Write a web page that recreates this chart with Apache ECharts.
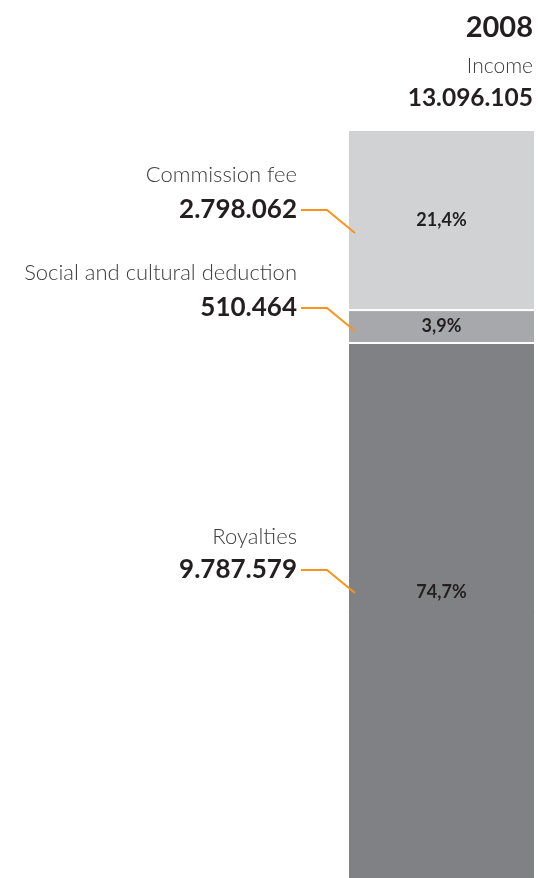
<!DOCTYPE html>
<html>
<head>
<meta charset="utf-8">
<script src="https://cdn.jsdelivr.net/npm/echarts@6/dist/echarts.min.js"></script>
<style>
  html, body { margin: 0; padding: 0; background: #fff; }
  #chart { width: 538px; height: 878px; }
</style>
</head>
<body>
<div id="chart"></div>
<script>
// data
var categories = ['2008'];
var seriesNames = ['Royalties', 'Social and cultural deduction', 'Commission fee'];
var seriesValues = [9787579, 510464, 2798062];
var valueLabels = ['9.787.579', '510.464', '2.798.062'];
var percentLabels = ['74,7%', '3,9%', '21,4%'];
var totalValue = 13096105;
var totalLabel = '13.096.105';
var headerLabel = 'Income';

// layout only (not data)
var colors = ['#808184', '#a7a8ab', '#d1d2d4'];
var labelYs = [570, 308, 210];      // y of the value text / leader line start
var pctOffsets = [249, null, null]; // royalties label is not centred
var fontFam = 'Lato, "Open Sans", sans-serif';

var chart = echarts.init(document.getElementById('chart'), null, { renderer: 'canvas' });

var series = seriesNames.map(function (name, i) {
    return {
        name: name,
        type: 'bar',
        stack: 'total',
        barWidth: '100%',
        data: [seriesValues[i]],
        itemStyle: { color: colors[i], borderColor: '#fff', borderWidth: 1 },
        label: {
            show: true,
            position: pctOffsets[i] == null ? 'inside' : ['50%', pctOffsets[i]],
            align: 'center',
            verticalAlign: 'middle',
            formatter: percentLabels[i],
            color: '#231f20',
            fontFamily: fontFam,
            fontWeight: 'bold',
            fontSize: 18
        },
        emphasis: { disabled: true }
    };
});

chart.setOption({
    animation: false,
    // bar runs past the bottom edge of the picture
    grid: { left: 348, top: 130, width: 187, height: 843, outerBoundsMode: 'none', containLabel: false },
    xAxis: { type: 'category', data: categories, show: false },
    yAxis: { type: 'value', min: 0, max: totalValue, show: false },
    series: series
});

// annotations placed from the chart's own scale
var barLeft = chart.convertToPixel({ gridIndex: 0 }, [categories[0], 0])[0] - 187 / 2;
var graphic = [
    { type: 'text', right: 5, top: 13, style: { text: categories[0], font: 'bold 29px ' + fontFam, fill: '#231f20' } },
    { type: 'text', right: 5, top: 56, style: { text: headerLabel, font: '300 21px ' + fontFam, fill: '#3c3c3c' } },
    { type: 'text', right: 5, top: 86, style: { text: totalLabel, font: 'bold 24.5px ' + fontFam, fill: '#231f20' } }
];
seriesNames.forEach(function (name, i) {
    var y = labelYs[i];
    graphic.push({
        type: 'text', x: 297, y: y - 35 + (i === 0 ? 2 : 0),
        style: { text: name, font: '300 22px ' + fontFam, fill: '#3c3c3c', textAlign: 'right', textVerticalAlign: 'middle' }
    });
    graphic.push({
        type: 'text', x: 297, y: y,
        style: { text: valueLabels[i], font: 'bold 26px ' + fontFam, fill: '#231f20', textAlign: 'right', textVerticalAlign: 'middle' }
    });
    graphic.push({
        type: 'polyline', z: 10,
        shape: { points: [[301, y], [327, y], [barLeft + 7, y + 23]] },
        style: { stroke: '#f7941d', lineWidth: 2, fill: null }
    });
});
chart.setOption({ graphic: graphic });
</script>
</body>
</html>
